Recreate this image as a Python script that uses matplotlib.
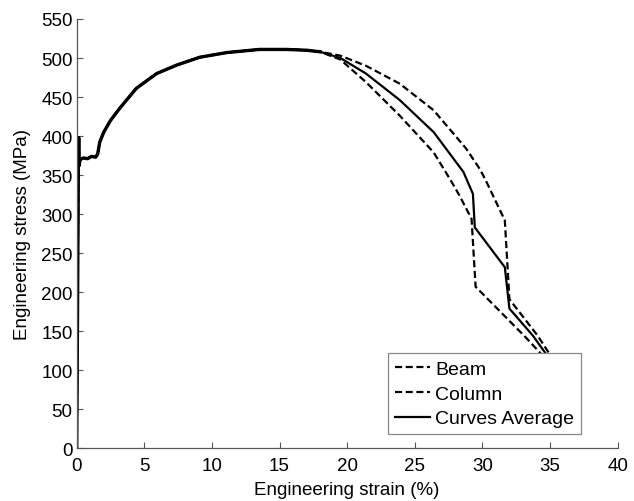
import numpy as np
import matplotlib
matplotlib.use("Agg")
import matplotlib.pyplot as plt

# Common part of the curve (all specimens overlap)
common_strain = [0.0, 0.06, 0.12, 0.15, 0.18, 0.25, 0.5, 0.8, 1.1, 1.4, 1.55, 1.7, 2.0, 2.5, 3.2, 4.4, 5.9, 7.4, 9.1, 11.1, 13.5, 15.5, 17.0, 18.0]
common_stress = [0, 170, 360, 398, 362, 370, 372, 371, 374, 373, 377, 392, 405, 420, 436, 461, 480, 491, 501, 507, 511, 511, 510, 508]

# Tails after the curves split
beam_strain = [19.5, 21.4, 23.9, 26.4, 27.6, 28.3, 29.2, 29.5, 33.1, 34.5, 36.0]
beam_stress = [498, 469, 426, 379, 345, 324, 294, 207, 144, 118, 91]

column_strain = [19.5, 21.4, 23.9, 26.4, 28.8, 29.8, 30.2, 31.66, 32.0, 34.1, 35.0, 36.0]
column_stress = [503, 490, 467, 433, 384, 358, 345, 292, 191, 144, 120, 96]

avg_strain = [19.5, 21.4, 23.9, 26.4, 28.6, 29.3, 29.44, 31.66, 32.0, 33.75, 34.7, 36.0]
avg_stress = [500, 480, 446, 405, 354, 326, 283, 232, 179, 144, 121, 95]

xticks = list(range(0, 41, 5))
yticks = list(range(0, 551, 50))

plt.rcParams['font.family'] = ['Liberation Sans', 'DejaVu Sans']
FS = 13.5

fig = plt.figure(figsize=(6.34, 5.02), dpi=100)
ax = fig.add_axes([76.7 / 634, 1 - 449.3 / 502, (617.6 - 76.7) / 634, (449.3 - 20) / 502])

bx = common_strain + beam_strain
by = common_stress + beam_stress
cx = common_strain + column_strain
cy = common_stress + column_stress
ax_ = common_strain + avg_strain
ay_ = common_stress + avg_stress

l1, = ax.plot(bx, by, color='black', lw=1.6, linestyle=(0, (3.2, 1.6)), label='Beam')
l2, = ax.plot(cx, cy, color='black', lw=1.6, linestyle=(0, (3.2, 1.6)), label='Column')
l3, = ax.plot(ax_, ay_, color='black', lw=1.6, label='Curves Average')
ax.plot(common_strain, common_stress, color='black', lw=2.4)

ax.set_xlim(0, 40)
ax.set_ylim(0, 550)
ax.set_xticks(xticks)
ax.set_yticks(yticks)
ax.tick_params(direction='in', length=4, width=0.8, color='#555555', labelsize=FS, pad=3)
ax.tick_params(axis='x', pad=6)
for s in ['top', 'right']:
    ax.spines[s].set_visible(False)
for s in ['left', 'bottom']:
    ax.spines[s].set_color('#555555')
    ax.spines[s].set_linewidth(0.9)

ax.set_xlabel('Engineering strain (%)', fontsize=FS, labelpad=5)
ax.set_ylabel('Engineering stress (MPa)', fontsize=FS, labelpad=7)

leg = ax.legend(handles=[l1, l2, l3], loc='lower left', bbox_to_anchor=(0.5755, 0.033),
                borderaxespad=0, fontsize=14, handlelength=1.8, handletextpad=0.27,
                borderpad=0.35, labelspacing=0.37, fancybox=False, framealpha=1,
                edgecolor='#888888')
leg.get_frame().set_linewidth(0.9)
leg.set_zorder(5)

fig.savefig('out.png', dpi=100)
